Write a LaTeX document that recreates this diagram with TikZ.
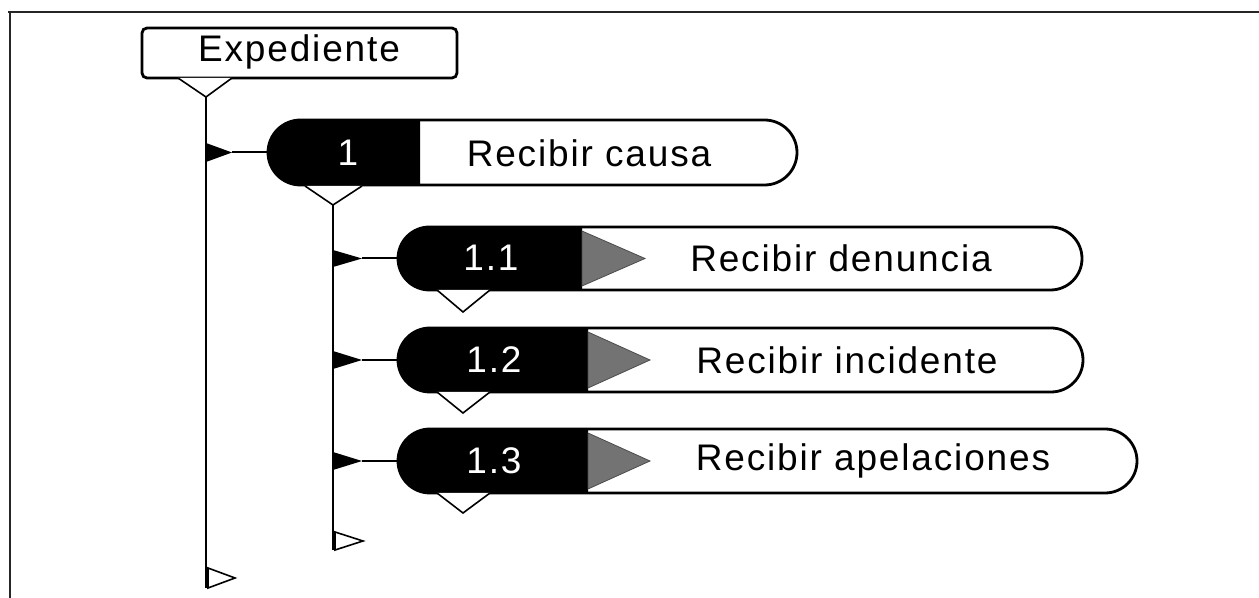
\documentclass[tikz,border=0pt]{standalone}
\usepackage{fontspec}
\setmainfont{Liberation Sans}[LetterSpace=5]
\usetikzlibrary{shapes.misc}
\begin{document}
\begin{tikzpicture}[x=0.5pt,y=-0.5pt,
  txt/.style={inner sep=0pt, font=\fontsize{18.5}{21}\selectfont},
  numtxt/.style={txt, text=white},
  boxline/.style={line width=1.4pt},
  pill/.style={rounded rectangle, draw, boxline, fill=white, inner sep=0pt, outer sep=0pt},
  blackpart/.style={rounded rectangle, rounded rectangle right arc=none, fill=black, inner sep=0pt, outer sep=0pt},
  spine/.style={line width=1pt},
  conn/.style={line width=1pt},
  opentri/.style={line width=0.8pt, fill=white},
  greytri/.style={fill=black!55, draw=black!70, line width=0.4pt}
]
\useasboundingbox (0,0) rectangle (1259,598);
% frame
\draw[line width=1.3pt, black!85] (8,12) -- (1259,12);
\draw[line width=1.3pt, black!85] (10,12) -- (10,598);

% Expediente
\node[draw, boxline, rounded corners=2.5pt, minimum width=157.5pt, minimum height=25pt, inner sep=0pt, outer sep=0pt] (exp) at (299.5,53) {};
\node[txt] (expt) at (299,52) {Expediente};

% node 1
\node[pill, minimum width=264.5pt, minimum height=32.5pt] (n1) at (532.5,152.5) {};
\node[blackpart, minimum width=76pt, minimum height=32.5pt] (b1) at (344,152.5) {};
\node[numtxt] (k1) at (348,153) {1};
\node[txt] (t1) at (589,153) {Recibir causa};

% node 1.1
\node[pill, minimum width=342pt, minimum height=31.5pt] (n11) at (740,258.5) {};
\node[blackpart, minimum width=92pt, minimum height=31.5pt] (b11) at (490,258.5) {};
\draw[greytri] (582,231) -- (645,258.5) -- (582,286) -- cycle;
\node[numtxt] (k11) at (491,258) {1.1};
\node[txt] (t11) at (841,258) {Recibir denuncia};

% node 1.2
\node[pill, minimum width=342.5pt, minimum height=32pt] (n12) at (740.5,360) {};
\node[blackpart, minimum width=95pt, minimum height=32pt] (b12) at (493,360) {};
\draw[greytri] (588,332) -- (650,360) -- (588,388) -- cycle;
\node[numtxt] (k12) at (494,360) {1.2};
\node[txt] (t12) at (847,360) {Recibir incidente};

% node 1.3
\node[pill, minimum width=369.5pt, minimum height=32pt] (n13) at (767.5,461) {};
\node[blackpart, minimum width=95pt, minimum height=32pt] (b13) at (493,461) {};
\draw[greytri] (588,433) -- (650,461) -- (588,489) -- cycle;
\node[numtxt] (k13) at (494,461) {1.3};
\node[txt] (t13) at (873,461) {Recibir apelaciones};

% spine 1 (from Expediente)
\coordinate (s1top) at (206,97);
\coordinate (s1bot) at (206,588);
\draw[opentri] (178,78) -- (s1top) -- (232,78);
\draw[spine] (s1top) -- (s1bot);
\draw[opentri] (208,568) -- (235,578) -- (208,588) -- cycle;
\fill (206,143) -- (232,152.5) -- (206,162) -- cycle;
\coordinate (c1) at (232,152.5);
\draw[conn] (c1) -- (n1.west);

% spine 2 (from node 1)
\coordinate (s2top) at (333,205);
\coordinate (s2bot) at (333,550);
\draw[opentri] (305,186) -- (s2top) -- (362,186);
\draw[spine] (s2top) -- (s2bot);
\draw[opentri] (335,532) -- (363,541) -- (335,550) -- cycle;

\fill (333,250) -- (362,258.5) -- (333,267) -- cycle;
\coordinate (c11) at (362,258.5);
\draw[conn] (c11) -- (n11.west);
\fill (333,351) -- (362,360) -- (333,369) -- cycle;
\coordinate (c12) at (362,360);
\draw[conn] (c12) -- (n12.west);
\fill (333,452) -- (362,461) -- (333,470) -- cycle;
\coordinate (c13) at (362,461);
\draw[conn] (c13) -- (n13.west);

% open triangles under sub-nodes
\draw[opentri] (437,290) -- (463,312) -- (490,290);
\draw[opentri] (437,392) -- (463,413) -- (490,392);
\draw[opentri] (437,493) -- (463,513) -- (490,493);
\end{tikzpicture}
\end{document}
